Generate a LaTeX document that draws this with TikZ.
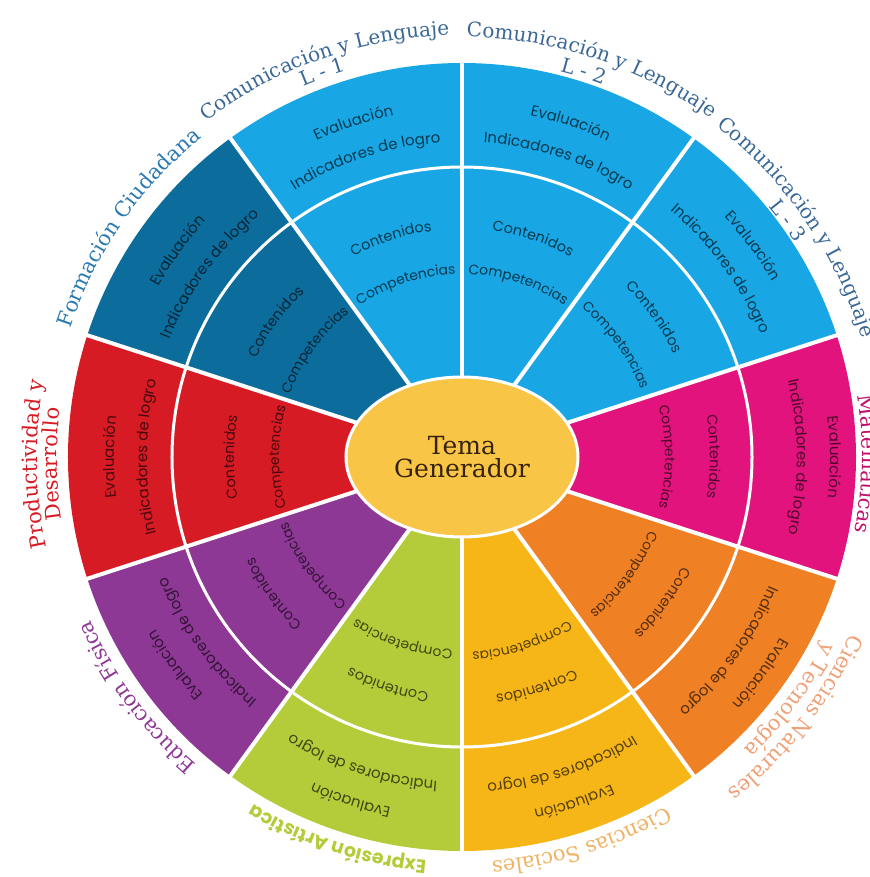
\documentclass[tikz,border=0pt]{standalone}
\usepackage{fontspec}
\setmainfont{DejaVu Serif}
\newfontfamily\ringfont{Poppins}
\usetikzlibrary{shapes.geometric, decorations.text}
\usepackage{xcolor}
\definecolor{SkyBlue}{RGB}{24,166,228}
\definecolor{DeepTeal}{RGB}{12,108,156}
\definecolor{BrightRed}{RGB}{214,27,36}
\definecolor{Plum}{RGB}{142,56,150}
\definecolor{LimeGreen}{RGB}{181,204,58}
\definecolor{Amber}{RGB}{247,182,24}
\definecolor{Tangerine}{RGB}{239,128,36}
\definecolor{HotMagenta}{RGB}{227,19,125}
\definecolor{HubYellow}{RGB}{249,197,70}
\definecolor{HubText}{RGB}{55,35,12}
\definecolor{SlateBlue}{RGB}{58,104,150}
\definecolor{CivicBlue}{RGB}{42,122,178}
\definecolor{SoftOrange}{RGB}{240,178,98}
\definecolor{SoftSalmon}{RGB}{238,160,118}

\begin{document}
\begin{tikzpicture}[
    x=0.5pt, y=0.5pt,
    spoke/.style={white, line width=2pt},
    ringlabel/.style={decorate, decoration={text along path, text align=center, text color=#1}},
    hub/.style={ellipse, fill=HubYellow, draw=white, line width=1.5pt, minimum width=116pt, minimum height=80pt, align=center, text=HubText, font=\fontsize{12.5}{11.5}\selectfont}
  ]
  \useasboundingbox (-462,-420) rectangle (408,457);
  \clip (-462,-420) rectangle (408,457);

  \foreach \m/\col/\d [evaluate=\d as \ra using 348+\d, evaluate=\d as \rb using 315+\d, evaluate=\d as \rc using 228+\d, evaluate=\d as \rd using 183+\d]
    in {108/SkyBlue/0, 72/SkyBlue/0, 36/SkyBlue/8, 0/HotMagenta/20, -36/Tangerine/18,
        -72/Amber/12, -108/LimeGreen/10, -144/Plum/3, 180/BrightRed/0, 144/DeepTeal/0} {
    \fill[\col] (0,0) -- (\m+18:394) arc[start angle=\m+18, end angle=\m-18, radius=394] -- cycle;
    \path[ringlabel=\col!35!black, decoration={text={|\ringfont\fontsize{7.5}{9}\selectfont|Evaluación}}]
      (\m+40:\ra) arc[start angle=\m+40, end angle=\m-40, radius=\ra];
    \path[ringlabel=\col!35!black, decoration={text={|\ringfont\fontsize{7.5}{9}\selectfont|Indicadores de logro}}]
      (\m+40:\rb) arc[start angle=\m+40, end angle=\m-40, radius=\rb];
    \path[ringlabel=\col!35!black, decoration={text={|\ringfont\fontsize{7.2}{9}\selectfont|Contenidos}}]
      (\m+40:\rc) arc[start angle=\m+40, end angle=\m-40, radius=\rc];
    \path[ringlabel=\col!35!black, decoration={text={|\ringfont\fontsize{6.9}{9}\selectfont|Competencias}}]
      (\m+40:\rd) arc[start angle=\m+40, end angle=\m-40, radius=\rd];
  }

  \foreach \a in {90,54,...,-234}
    \draw[spoke] (0,0) -- (\a:396);
  \draw[white, line width=1.5pt] (0,0) circle[radius=290];

  \node[hub] (tema) at (0,0) {Tema\\Generador};

  \path[ringlabel=SlateBlue, decoration={text={|\fontsize{10}{12}\selectfont|Comunicación y Lenguaje}}]
    (150:422) arc[start angle=150, end angle=69, radius=422];
  \path[ringlabel=SlateBlue, decoration={text={|\fontsize{10}{12}\selectfont|L - 1}}]
    (130:403) arc[start angle=130, end angle=90, radius=403];
  \path[ringlabel=SlateBlue, decoration={text={|\fontsize{10}{12}\selectfont|Comunicación y Lenguaje}}]
    (111.5:420) arc[start angle=111.5, end angle=31.5, radius=420];
  \path[ringlabel=SlateBlue, decoration={text={|\fontsize{10}{12}\selectfont|L - 2}}]
    (92.5:398) arc[start angle=92.5, end angle=52.5, radius=398];
  \path[ringlabel=SlateBlue, decoration={text={|\fontsize{10}{12}\selectfont|Comunicación y Lenguaje}}]
    (74.5:417) arc[start angle=74.5, end angle=-5.5, radius=417];
  \path[ringlabel=SlateBlue, decoration={text={|\fontsize{10}{12}\selectfont|L - 3}}]
    (56:396) arc[start angle=56, end angle=16, radius=396];
  \path[ringlabel=HotMagenta!85!black, decoration={text={|\fontsize{10.5}{12}\selectfont|Matemáticas}}]
    (39:400) arc[start angle=39, end angle=-41, radius=400];
  \path[ringlabel=SoftSalmon, decoration={text={|\fontsize{10.5}{12}\selectfont|Ciencias Naturales}}]
    (2:427) arc[start angle=2, end angle=-78, radius=427];
  \path[ringlabel=SoftSalmon, decoration={text={|\fontsize{10.5}{12}\selectfont|y Tecnología}}]
    (3.5:406) arc[start angle=3.5, end angle=-76.5, radius=406];
  \path[ringlabel=SoftOrange, decoration={text={|\fontsize{10.5}{12}\selectfont|Ciencias Sociales}}]
    (-32.7:405) arc[start angle=-32.7, end angle=-112.7, radius=405];
  \path[ringlabel=LimeGreen, decoration={text={|\ringfont\bfseries\fontsize{9.5}{12}\selectfont|Expresión Artística}}]
    (-68:405) arc[start angle=-68, end angle=-148, radius=405];
  \path[ringlabel=Plum, decoration={text={|\fontsize{10.5}{12}\selectfont|Educación Física}}]
    (-103.6:406) arc[start angle=-103.6, end angle=-183.6, radius=406];
  \path[ringlabel=BrightRed, decoration={text={|\fontsize{10.5}{12}\selectfont|Productividad y}}]
    (221:425) arc[start angle=221, end angle=141, radius=425];
  \path[ringlabel=BrightRed, decoration={text={|\fontsize{10.5}{12}\selectfont|Desarrollo}}]
    (221:405) arc[start angle=221, end angle=141, radius=405];
  \path[ringlabel=CivicBlue, decoration={text={|\fontsize{10.5}{12}\selectfont|Formación Ciudadana}}]
    (185.5:412) arc[start angle=185.5, end angle=105.5, radius=412];
\end{tikzpicture}
\end{document}
